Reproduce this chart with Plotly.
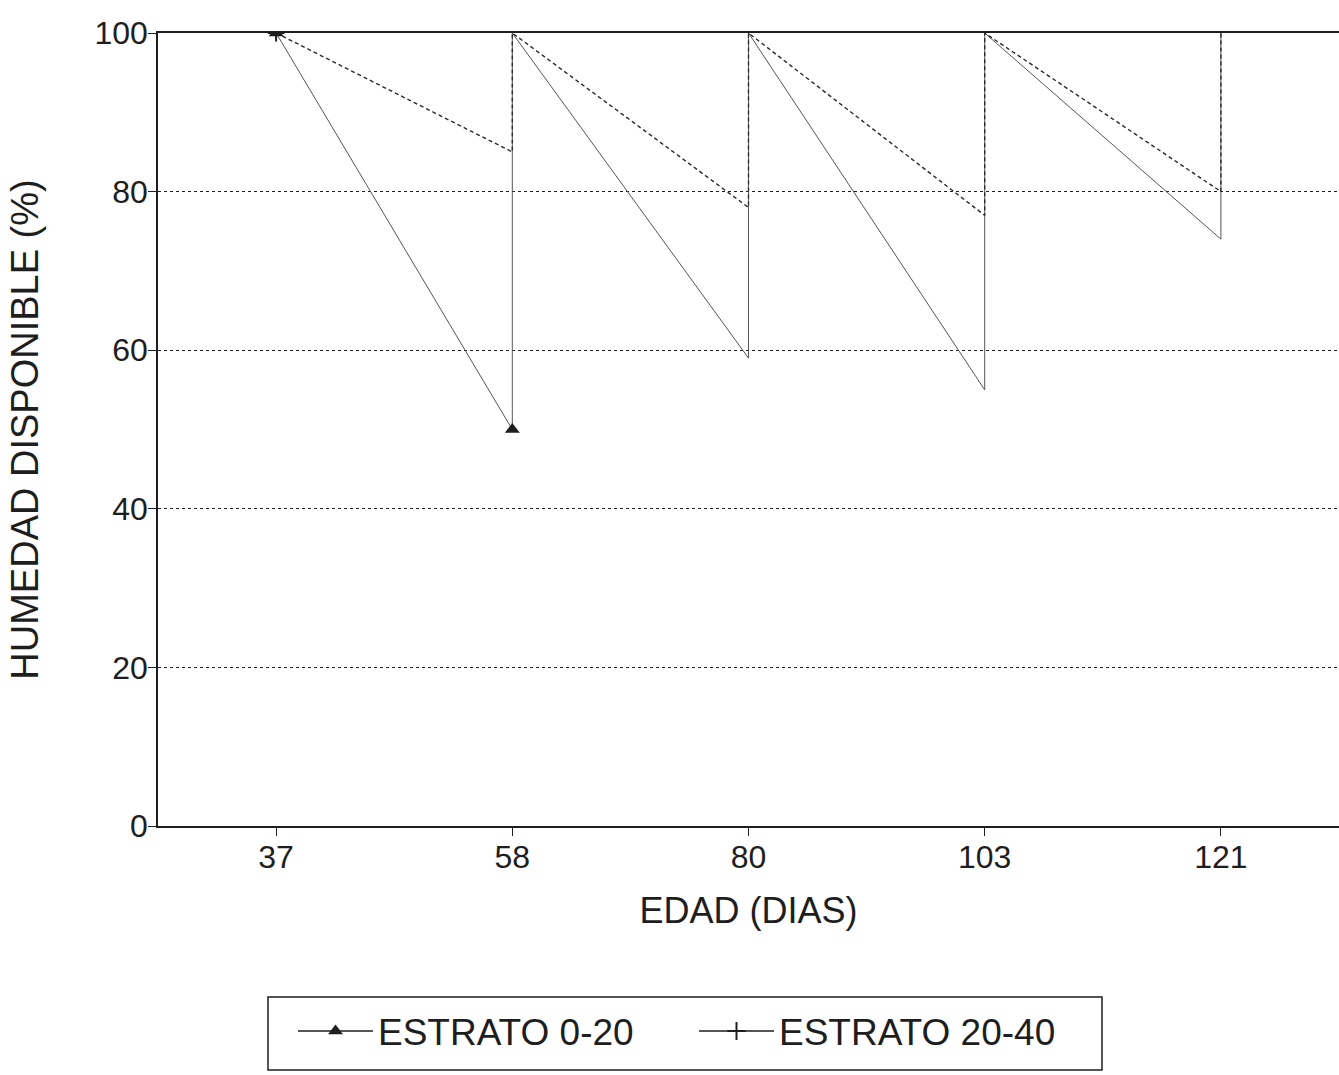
import plotly.graph_objects as go

# Data
edades = ["37", "58", "80", "103", "121"]
inicio = 100  # humedad al inicio de cada ciclo (%)
estrato_0_20_fin = [50, 59, 55, 74]
estrato_20_40_fin = [85, 78, 77, 80]
y_ticks = [0, 20, 40, 60, 80, 100]


def sawtooth(fin):
    xs, ys = [0], [inicio]
    for i, v in enumerate(fin):
        xs += [i + 1, i + 1]
        ys += [v, inicio]
    return xs, ys


x1, y1 = sawtooth(estrato_0_20_fin)
x2, y2 = sawtooth(estrato_20_40_fin)

INK = "#1e1e1e"
FONT = "Liberation Sans, Arial, Helvetica, sans-serif"

fig = go.Figure()
# lines
fig.add_trace(go.Scatter(
    x=x1, y=y1, mode="lines", showlegend=False,
    line=dict(color="#555555", width=1),
))
fig.add_trace(go.Scatter(
    x=x2, y=y2, mode="lines", showlegend=False,
    line=dict(color="#2a2a2a", width=1.4, dash="4px,3px"),
))
# markers visible in the reference (first points only)
fig.add_trace(go.Scatter(
    x=x1[:2], y=y1[:2], mode="markers", showlegend=False,
    marker=dict(symbol="triangle-up", size=13, color=INK),
))
fig.add_trace(go.Scatter(
    x=x2[:1], y=y2[:1], mode="markers", showlegend=False,
    marker=dict(symbol="cross-thin", size=12, color=INK,
                line=dict(width=2, color=INK)),
))
# legend entries
fig.add_trace(go.Scatter(
    x=[None], y=[None], mode="lines+markers", name="ESTRATO 0-20",
    line=dict(color=INK, width=1.5),
    marker=dict(symbol="triangle-up", size=13, color=INK),
))
fig.add_trace(go.Scatter(
    x=[None], y=[None], mode="lines+markers", name="ESTRATO 20-40",
    line=dict(color=INK, width=1.5),
    marker=dict(symbol="cross-thin", size=13, color=INK,
                line=dict(width=2, color=INK)),
))

fig.update_layout(
    width=1339, height=1075,
    margin=dict(l=158, r=0, t=33, b=249),
    paper_bgcolor="white", plot_bgcolor="white",
    font=dict(family=FONT, color=INK, size=32),
    showlegend=True,
    legend=dict(
        orientation="h", x=(293 - 158) / 1181, xanchor="left",
        y=-0.220, yanchor="top",
        bgcolor="rgba(0,0,0,0)", borderwidth=0,
        font=dict(size=37, color=INK, family=FONT),
        itemwidth=75, entrywidth=311,
    ),
    shapes=[dict(
        type="rect", xref="paper", yref="paper",
        x0=(268 - 158) / 1181, x1=(1102 - 158) / 1181,
        y0=-0.3077, y1=-0.2156,
        line=dict(color=INK, width=1.5), fillcolor="rgba(0,0,0,0)",
    )],
)

fig.update_xaxes(
    range=[-0.5, 4.5],
    tickmode="array", tickvals=list(range(len(edades))), ticktext=edades,
    showgrid=False, zeroline=False,
    showline=True, linecolor=INK, linewidth=1.5, mirror=True,
    ticks="outside", ticklen=8, tickcolor=INK,
    tickfont=dict(size=32),
    ticklabelstandoff=-6,
    title=dict(text="EDAD (DIAS)", font=dict(size=36), standoff=24),
)
fig.update_yaxes(
    range=[0, 100],
    tickmode="array", tickvals=y_ticks,
    showgrid=True, gridcolor=INK, gridwidth=1, griddash="dot",
    zeroline=False,
    showline=True, linecolor=INK, linewidth=1.5,
    ticks="outside", ticklen=8, tickcolor=INK,
    tickfont=dict(size=32),
    ticklabelstandoff=-6,
    title=dict(text="HUMEDAD DISPONIBLE (%)", font=dict(size=38), standoff=44),
)

fig.write_html("out.html")
